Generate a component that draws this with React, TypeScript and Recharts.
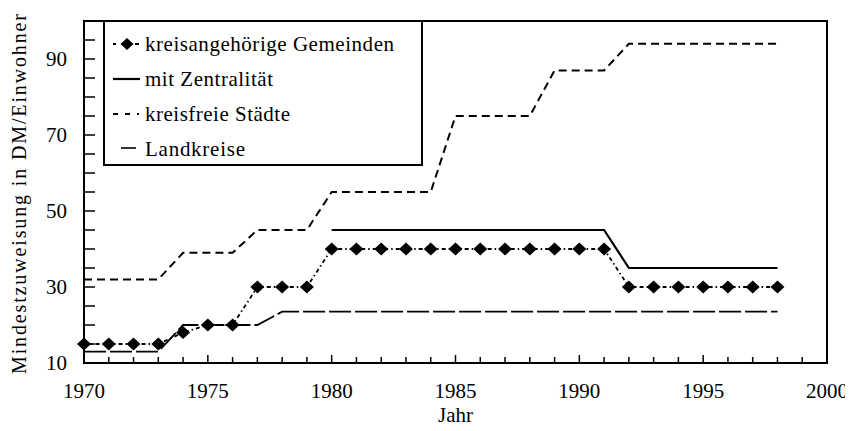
import React from 'react';
import { LineChart, Line, XAxis, YAxis, ReferenceArea, Legend } from 'recharts';

const years = [1970, 1971, 1972, 1973, 1974, 1975, 1976, 1977, 1978, 1979, 1980, 1981, 1982, 1983, 1984, 1985, 1986, 1987, 1988, 1989, 1990, 1991, 1992, 1993, 1994, 1995, 1996, 1997, 1998];
const gemeinden = [15, 15, 15, 15, 18, 20, 20, 30, 30, 30, 40, 40, 40, 40, 40, 40, 40, 40, 40, 40, 40, 40, 30, 30, 30, 30, 30, 30, 30];
const zentralitaet = [null, null, null, null, null, null, null, null, null, null, 45, 45, 45, 45, 45, 45, 45, 45, 45, 45, 45, 45, 35, 35, 35, 35, 35, 35, 35];
const kreisfreie = [32, 32, 32, 32, 39, 39, 39, 45, 45, 45, 55, 55, 55, 55, 55, 75, 75, 75, 75, 87, 87, 87, 94, 94, 94, 94, 94, 94, 94];
const landkreise = [13, 13, 13, 13, 20, 20, 20, 20, 23.5, 23.5, 23.5, 23.5, 23.5, 23.5, 23.5, 23.5, 23.5, 23.5, 23.5, 23.5, 23.5, 23.5, 23.5, 23.5, 23.5, 23.5, 23.5, 23.5, 23.5];

const xTicks = [1970, 1971, 1972, 1973, 1974, 1975, 1976, 1977, 1978, 1979, 1980, 1981, 1982, 1983, 1984, 1985, 1986, 1987, 1988, 1989, 1990, 1991, 1992, 1993, 1994, 1995, 1996, 1997, 1998, 1999, 2000];
const xLabels = [1970, 1975, 1980, 1985, 1990, 1995, 2000];
const yTicks = [10, 15, 20, 25, 30, 35, 40, 45, 50, 55, 60, 65, 70, 75, 80, 85, 90, 95, 100];
const yLabels = [10, 30, 50, 70, 90];

const seriesNames = ['kreisangehörige Gemeinden', 'mit Zentralität', 'kreisfreie Städte', 'Landkreise'];
const xTitle = 'Jahr';
const yTitle = 'Mindestzuweisung in DM/Einwohner';

const data = years.map((year, i) => ({
  year,
  gemeinden: gemeinden[i],
  zentralitaet: zentralitaet[i],
  kreisfreie: kreisfreie[i],
  landkreise: landkreise[i],
}));

const FONT = "'Liberation Serif', 'Times New Roman', serif";

const XTick = (props: any) => {
  const { x, y, payload } = props;
  const v = payload.value;
  const major = xLabels.includes(v);
  return (
    <g>
      <line x1={x} x2={x} y1={y} y2={y - (major ? 8 : 6)} stroke="#000" strokeWidth={1.5} />
      {major && (
        <text x={x} y={y + 28} dy="0.35em" textAnchor="middle" fontFamily={FONT} fontSize={21} fill="#000">
          {v}
        </text>
      )}
    </g>
  );
};

const YTick = (props: any) => {
  const { x, y, payload } = props;
  const v = payload.value;
  const major = yLabels.includes(v);
  return (
    <g>
      <line x1={x} x2={x + 11} y1={y} y2={y} stroke="#000" strokeWidth={1.5} />
      {major && (
        <text x={x - 17} y={y} dy="0.35em" textAnchor="end" fontFamily={FONT} fontSize={21} fill="#000">
          {v}
        </text>
      )}
    </g>
  );
};

const Diamond = (props: any) => {
  const { cx, cy, index } = props;
  if (cx == null || cy == null) return <g key={index} />;
  return (
    <path
      key={index}
      d={`M${cx} ${cy - 6.5} L${cx + 7} ${cy} L${cx} ${cy + 6.5} L${cx - 7} ${cy} Z`}
      fill="#000"
    />
  );
};

const LegendBox = () => (
  <svg width={320} height={146} style={{ display: 'block' }}>
    <rect x={1} y={1} width={318} height={144} fill="#fff" stroke="#000" strokeWidth={2} />
    <line x1={10} x2={13} y1={24} y2={24} stroke="#000" strokeWidth={2} />
    <path d="M24 18 L30.5 24 L24 30 L17.5 24 Z" fill="#000" />
    <line x1={32} x2={36} y1={24} y2={24} stroke="#000" strokeWidth={2} />
    <text x={42} y={31} fontFamily={FONT} fontSize={21} textLength={249} fill="#000">{seriesNames[0]}</text>
    <line x1={10} x2={37} y1={59} y2={59} stroke="#000" strokeWidth={2.2} />
    <text x={42} y={66} fontFamily={FONT} fontSize={21} textLength={128} fill="#000">{seriesNames[1]}</text>
    <line x1={10} x2={36} y1={94} y2={94} stroke="#000" strokeWidth={2} strokeDasharray="5 7" />
    <text x={42} y={101} fontFamily={FONT} fontSize={21} textLength={145} fill="#000">{seriesNames[2]}</text>
    <line x1={18} x2={33} y1={128} y2={128} stroke="#000" strokeWidth={1.6} />
    <text x={42} y={136} fontFamily={FONT} fontSize={21} textLength={100} fill="#000">{seriesNames[3]}</text>
  </svg>
);

export default function App() {
  return (
    <div style={{ width: 845, height: 423, position: 'relative' }}>
      <LineChart width={845} height={423} data={data} margin={{ top: 13, right: 26, bottom: 0, left: 0 }}>
        <XAxis
          dataKey="year"
          type="number"
          domain={[1970, 2000]}
          ticks={xTicks}
          interval={0}
          tickSize={0}
          tickMargin={0}
          tickLine={false}
          height={68}
          axisLine={{ stroke: '#000', strokeWidth: 2 }}
          tick={<XTick />}
          label={(p: any) => {
            const vb = p.viewBox || {};
            return (
              <text x={vb.x + vb.width / 2} y={vb.y + 52} dy="0.35em" textAnchor="middle" fontFamily={FONT} fontSize={21} fill="#000">
                {xTitle}
              </text>
            );
          }}
        />
        <YAxis
          type="number"
          domain={[10, 100]}
          ticks={yTicks}
          interval={0}
          tickSize={0}
          tickMargin={0}
          tickLine={false}
          width={76}
          axisLine={{ stroke: '#000', strokeWidth: 2 }}
          tick={<YTick />}
          label={(p: any) => {
            const vb = p.viewBox || {};
            const cx = vb.x + 18;
            const cy = vb.y + vb.height / 2 + 2;
            return (
              <text
                x={cx}
                y={cy}
                transform={`rotate(-90 ${cx} ${cy})`}
                textAnchor="middle"
                fontFamily={FONT}
                fontSize={20}
                textLength={360}
                fill="#000"
              >
                {yTitle}
              </text>
            );
          }}
        />
        <ReferenceArea x1={1970} x2={2000} y1={10} y2={100} fill="none" stroke="#000" strokeWidth={2} ifOverflow="visible" />
        <Line type="linear" dataKey="kreisfreie" stroke="#000" strokeWidth={2} strokeDasharray="8 5" dot={false} isAnimationActive={false} />
        <Line type="linear" dataKey="landkreise" stroke="#000" strokeWidth={1.8} strokeDasharray="22 4" dot={false} isAnimationActive={false} />
        <Line type="linear" dataKey="zentralitaet" stroke="#000" strokeWidth={2.2} dot={false} connectNulls={false} isAnimationActive={false} />
        <Line type="linear" dataKey="gemeinden" stroke="#000" strokeWidth={1.8} strokeDasharray="4 3 1.5 3" dot={<Diamond />} activeDot={false} isAnimationActive={false} />
        <Legend
          layout="vertical"
          align="center"
          verticalAlign="middle"
          content={<LegendBox />}
          wrapperStyle={{ left: 95, top: 12, width: 320, height: 146 }}
        />
      </LineChart>
    </div>
  );
}
